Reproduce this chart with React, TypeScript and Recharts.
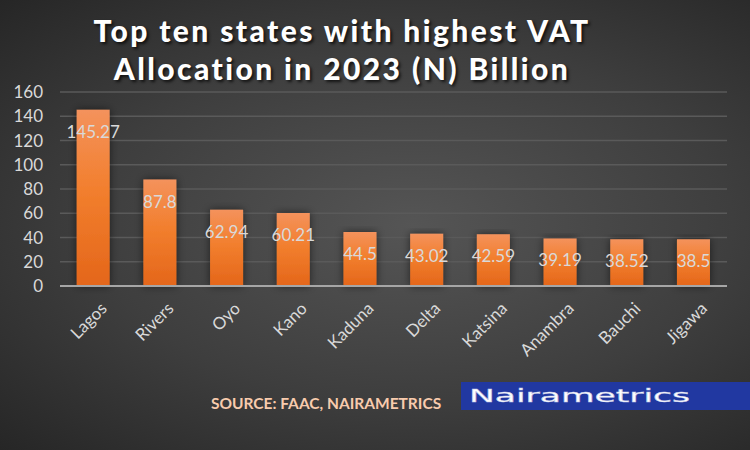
import { BarChart, Bar, XAxis, YAxis, CartesianGrid, LabelList } from 'recharts';

const STATES = ['Lagos', 'Rivers', 'Oyo', 'Kano', 'Kaduna', 'Delta', 'Katsina', 'Anambra', 'Bauchi', 'Jigawa'];
const VAT_BILLIONS = [145.27, 87.8, 62.94, 60.21, 44.5, 43.02, 42.59, 39.19, 38.52, 38.5];
const Y_TICKS = [0, 20, 40, 60, 80, 100, 120, 140, 160];

const data = STATES.map((state, i) => ({ state, vat: VAT_BILLIONS[i] }));

const FONT = 'Lato, "Open Sans", sans-serif';
const LIGHT_TEXT = '#d9d9d9';

function StateTick({ x, y, payload }: any) {
  return (
    <text
      x={x + 5}
      y={y + 6}
      transform={`rotate(-45, ${x + 5}, ${y + 6})`}
      textAnchor="end"
      dominantBaseline="hanging"
      fill={LIGHT_TEXT}
      fontSize={17}
      fontFamily={FONT}
    >
      {payload.value}
    </text>
  );
}

function ValueLabel({ x, y, width, value }: any) {
  return (
    <text
      x={x + width / 2}
      y={y + 28}
      textAnchor="middle"
      fill={LIGHT_TEXT}
      fontSize={17}
      fontFamily={FONT}
    >
      {value}
    </text>
  );
}

export default function App() {
  return (
    <div
      style={{
        position: 'absolute',
        top: 0,
        left: 0,
        width: 750,
        height: 450,
        overflow: 'hidden',
        background: 'radial-gradient(ellipse at 55% 50%, #555555 0%, #3e3e3e 55%, #262626 100%)',
        fontFamily: FONT,
      }}
    >
      <div
        style={{
          position: 'absolute',
          top: 11,
          left: 0,
          width: 684,
          textAlign: 'center',
          color: '#ffffff',
          fontWeight: 900,
          fontSize: 30,
          lineHeight: '38px',
          letterSpacing: 2.4,
          textShadow: '2px 2px 3px rgba(0,0,0,0.7)',
        }}
      >
        Top ten states with highest VAT
        <br />
        Allocation in 2023 (N) Billion
      </div>

      <BarChart
        width={750}
        height={450}
        data={data}
        margin={{ top: 92, right: 23, left: 10, bottom: 104 }}
        barCategoryGap="25%"
        style={{ position: 'absolute', top: 0, left: 0 }}
      >
        <defs>
          <linearGradient id="barFill" x1="0" y1="0" x2="0" y2="1">
            <stop offset="0%" stopColor="#f4925c" />
            <stop offset="45%" stopColor="#f27f2e" />
            <stop offset="100%" stopColor="#e4661a" />
          </linearGradient>
          <filter id="barShadow" x="-40%" y="-10%" width="180%" height="130%">
            <feDropShadow dx="0" dy="0" stdDeviation="4" floodColor="#000" floodOpacity="0.55" />
          </filter>
        </defs>
        <CartesianGrid vertical={false} stroke="#5a5a5a" strokeWidth={1.5} />
        <XAxis
          dataKey="state"
          height={60}
          interval={0}
          tickLine={false}
          axisLine={{ stroke: '#a6a6a6', strokeWidth: 2 }}
          tick={<StateTick />}
        />
        <YAxis
          width={50}
          domain={[0, 160]}
          ticks={Y_TICKS}
          interval={0}
          tickLine={false}
          axisLine={false}
          tickMargin={11}
          tick={{ fill: LIGHT_TEXT, fontSize: 17, fontFamily: FONT }}
        />
        <Bar dataKey="vat" fill="url(#barFill)" filter="url(#barShadow)" isAnimationActive={false}>
          <LabelList dataKey="vat" content={<ValueLabel />} />
        </Bar>
      </BarChart>

      <div
        style={{
          position: 'absolute',
          left: 211,
          top: 394,
          color: '#f8cbad',
          fontWeight: 700,
          fontSize: 15.5,
          whiteSpace: 'nowrap',
        }}
      >
        SOURCE: FAAC, NAIRAMETRICS
      </div>

      <svg width={289} height={28} style={{ position: 'absolute', left: 461, top: 382 }}>
        <rect width={289} height={28} fill="#2138a1" />
        <text
          x={8}
          y={20}
          textLength={221}
          lengthAdjust="spacingAndGlyphs"
          fill="#ffffff"
          stroke="#c8cde8"
          strokeWidth={0.4}
          fontSize={17}
          fontWeight={400}
          fontFamily='"DejaVu Sans", sans-serif'
        >
          Nairametrics
        </text>
      </svg>
    </div>
  );
}
